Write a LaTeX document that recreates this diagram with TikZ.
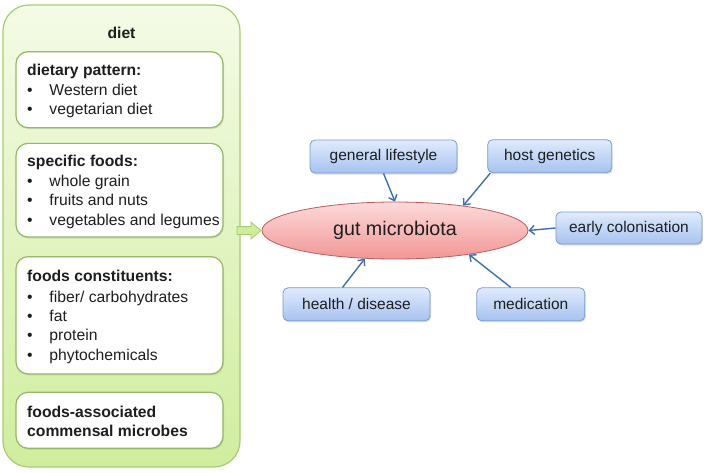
\documentclass[tikz,border=0pt]{standalone}
\usepackage{fontspec}
\setmainfont{Liberation Sans}
\usetikzlibrary{shapes.geometric,shapes.arrows,shadows,arrows.meta}
\definecolor{dietgreen}{RGB}{165,204,112}
\definecolor{dietlight}{RGB}{244,251,230}
\definecolor{dietdeep}{RGB}{208,237,158}
\definecolor{bluelight}{RGB}{224,235,252}
\definecolor{bluedeep}{RGB}{166,194,240}
\definecolor{blueedge}{RGB}{122,155,208}
\definecolor{arrowblue}{RGB}{62,112,172}
\definecolor{pinklight}{RGB}{252,218,218}
\definecolor{pinkdeep}{RGB}{242,150,150}
\definecolor{pinkedge}{RGB}{190,92,92}
\definecolor{inkgray}{RGB}{30,30,30}

\newcommand{\itm}{\makebox[22.3pt][l]{\textbullet}}

\begin{document}
\begin{tikzpicture}[x=1pt, y=-1pt, >={Straight Barb[length=5pt,width=9pt]},
    every node/.style={text=inkgray},
    panel/.style={draw=dietgreen, line width=1.2pt, rounded corners=26pt,
        top color=dietlight, bottom color=dietdeep},
    listbox/.style={draw=dietgreen!90!black, line width=1.2pt, fill=white,
        rounded corners=12pt, minimum width=207pt, inner sep=0pt,
        drop shadow={opacity=0.2, shadow xshift=1pt, shadow yshift=-1.5pt}},
    listtext/.style={anchor=west, align=left, inner sep=0pt,
        font=\fontsize{15.7}{19.3}\selectfont},
    factor/.style={draw=blueedge, line width=0.8pt, rounded corners=5pt,
        top color=bluelight, bottom color=bluedeep, inner sep=0pt,
        minimum height=33pt, font=\fontsize{15.5}{18}\selectfont,
        drop shadow={opacity=0.25, shadow xshift=1pt, shadow yshift=-1.5pt}},
    infl/.style={->, arrowblue, line width=1.4pt}]
    \useasboundingbox (0,0) rectangle (707,472);

    % Diet panel
    \node[panel, minimum width=237pt, minimum height=462pt] (diet) at (121.5,236) {};
    \node[font=\bfseries\fontsize{15.7}{18}\selectfont] (diettitle) at (121.5,33) {diet};

    \node[listbox, minimum height=76pt] (pattern) at (119.5,89.7) {};
    \node[listtext] (patterntxt) at (27,91) {\textbf{dietary pattern:}\\[1pt]
        \itm Western diet\\ \itm vegetarian diet};

    \node[listbox, minimum height=93.7pt] (foods) at (119.5,190.2) {};
    \node[listtext] (foodstxt) at (27,191.5) {\textbf{specific foods:}\\[1pt]
        \itm whole grain\\ \itm fruits and nuts\\ \itm vegetables and legumes};

    \node[listbox, minimum height=117.3pt] (constit) at (119.5,315.3) {};
    \node[listtext] (constittxt) at (27,316.6) {\textbf{foods constituents:}\\[1.5pt]
        \itm fiber/ carbohydrates\\ \itm fat\\ \itm protein\\ \itm phytochemicals};

    \node[listbox, minimum height=56pt] (microbes) at (119.5,420.3) {};
    \node[listtext] (microbestxt) at (27,421.3) {\textbf{foods-associated}\\
        \textbf{commensal microbes}};

    % Gut microbiota
    \node[ellipse, draw=pinkedge, line width=0.8pt, top color=pinklight,
        bottom color=pinkdeep, minimum width=266pt, minimum height=57pt,
        inner sep=0pt, font=\fontsize{19.7}{22}\selectfont] (gut) at (395,230.5) {gut microbiota};
    \node[single arrow, draw=dietgreen, fill=dietdeep, line width=0.8pt,
        inner sep=3.5pt, minimum height=24pt, single arrow head extend=4.5pt,
        single arrow tip angle=80, anchor=tip] (feed) at (gut.west) {};

    % Factors
    \node[factor, minimum width=147pt] (lifestyle) at (383.5,156.5) {general lifestyle};
    \node[factor, minimum width=124pt] (genetics) at (549.7,156.2) {host genetics};
    \node[factor, minimum width=146pt, minimum height=32pt] (coloni) at (628.9,228) {early colonisation};
    \node[factor, minimum width=147pt] (health) at (356.5,304.3) {health / disease};
    \node[factor, minimum width=108pt] (medic) at (530.8,304.3) {medication};

    \draw[infl] (lifestyle.south) -- (gut.north);
    \draw[infl] ([xshift=3pt]genetics.south west) -- (gut.20);
    \draw[infl] (coloni.west) -- (gut.east);
    \draw[infl] ([xshift=-14pt]health.north) -- (gut.-137);
    \draw[infl] ([xshift=-20pt]medic.north) -- (gut.-18);
\end{tikzpicture}
\end{document}
